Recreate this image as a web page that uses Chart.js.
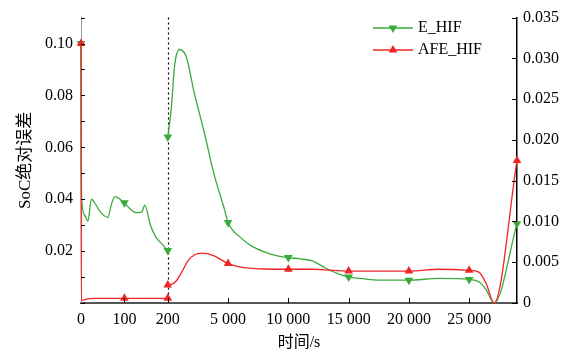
<!DOCTYPE html>
<html>
<head>
<meta charset="utf-8">
<script src="https://cdn.jsdelivr.net/npm/chart.js@4.4.1/dist/chart.umd.min.js"></script>
<style>
  html, body { margin: 0; padding: 0; background: #fff; }
  canvas { display: block; }
</style>
</head>
<body>
<canvas id="socChart" width="579" height="353"></canvas>
<script>
// part 1 of the run is plotted 0-200, part 2 is in seconds and squeezed after it
const eTime1 = [0, 0.5, 1.6, 8, 16, 24, 30, 45, 62, 70, 78, 90, 100, 115, 128, 140, 147, 160, 173, 188, 200];
const eVal1  = [0.100, 0.060, 0.040, 0.034, 0.0316, 0.040, 0.039, 0.035, 0.033, 0.038, 0.041, 0.040, 0.0386, 0.036, 0.0348, 0.035, 0.0377, 0.030, 0.0253, 0.0225, 0.0202];
const eTime2 = [0, 289, 562, 975, 1529, 2190, 3017, 3843, 4669, 5000, 6074, 6900, 8000, 9000, 10000, 11000, 12000, 13000, 14000, 15000, 16000, 17500, 20000, 22500, 25000, 25800, 26400, 27066, 28967];
const eVal2  = [0.064, 0.0749, 0.0914, 0.0977, 0.0949, 0.0811, 0.0659, 0.0495, 0.0366, 0.031, 0.0251, 0.0221, 0.0197, 0.0183, 0.0175, 0.0170, 0.0162, 0.0137, 0.0115, 0.0100, 0.0095, 0.0088, 0.0088, 0.0095, 0.0091, 0.0082, 0.0052, 0, 0.0305];

const aTime1 = [0, 0.5, 5, 15, 30, 100, 200];
const aVal1  = [0.100, 0.0011, 0.0011, 0.0016, 0.0018, 0.0018, 0.0018];
const aTime2 = [0, 300, 700, 1100, 1700, 2200, 2800, 3800, 5000, 6500, 8000, 10000, 12000, 13000, 15000, 20000, 22500, 25000, 25800, 26400, 27066, 28967];
const aVal2  = [0.0069, 0.0072, 0.0085, 0.0114, 0.0164, 0.0185, 0.0192, 0.0183, 0.0152, 0.0135, 0.0131, 0.013, 0.013, 0.0128, 0.0123, 0.0123, 0.013, 0.0126, 0.0119, 0.0076, 0, 0.0549];

const markTime1 = [0, 100, 200];
const markTime2 = [0, 5000, 10000, 15000, 20000, 25000, 28967];

const xTicks1 = [0, 100, 200];
const xTicks2 = [5000, 10000, 15000, 20000, 25000];

const SPLIT = 200;
const SEC_PER_UNIT = 36;
const END_TIME = 28967;

const GREEN = '#3aab3a';
const RED = '#f02424';
const FONT = "'Liberation Serif', 'Noto Sans CJK SC', serif";

function axisPos(part, t) {
    return part === 1 ? t : SPLIT + t / SEC_PER_UNIT;
}

function buildPoints(t1, v1, t2, v2) {
    const pts = t1.map((t, i) => ({ x: axisPos(1, t), y: v1[i], mark: markTime1.includes(t) }));
    pts.push({ x: SPLIT, y: null });   // break between the two parts
    t2.forEach((t, i) => pts.push({ x: axisPos(2, t), y: v2[i], mark: markTime2.includes(t) }));
    return pts;
}

function fmtThousands(v) {
    return String(v).replace(/\B(?=(\d{3})+(?!\d))/g, ' ');
}

const splitLine = {
    id: 'splitLine',
    beforeDatasetsDraw(chart) {
        const { ctx, chartArea: a, scales } = chart;
        const x = Math.round(scales.x.getPixelForValue(SPLIT)) + 0.5;
        ctx.save();
        ctx.strokeStyle = '#000';
        ctx.lineWidth = 1.2;
        ctx.setLineDash([2, 3]);
        ctx.beginPath();
        ctx.moveTo(x, a.top);
        ctx.lineTo(x, a.bottom);
        ctx.stroke();
        ctx.restore();
    }
};

// inward tick marks + legend inside the plot
const extras = {
    id: 'extras',
    afterDraw(chart) {
        const { ctx, chartArea: a, scales } = chart;
        ctx.save();
        ctx.strokeStyle = '#000';
        ctx.lineWidth = 1;
        ctx.beginPath();
        scales.y.ticks.forEach(tk => {
            const y = Math.round(scales.y.getPixelForValue(tk.value)) + 0.5;
            ctx.moveTo(a.left, y); ctx.lineTo(a.left + 4, y);
        });
        scales.y1.ticks.forEach(tk => {
            const y = Math.round(scales.y1.getPixelForValue(tk.value)) + 0.5;
            ctx.moveTo(a.right, y); ctx.lineTo(a.right - 5, y);
        });
        scales.x.ticks.forEach(tk => {
            if (tk.value === 0) return;
            const x = Math.round(scales.x.getPixelForValue(tk.value)) + 0.5;
            ctx.moveTo(x, a.bottom); ctx.lineTo(x, a.bottom - 5);
        });
        ctx.stroke();

        // legend
        const lx = 373, ly = 28, gap = 22;
        ctx.font = '16px ' + FONT;
        ctx.textBaseline = 'middle';
        chart.data.datasets.forEach((ds, i) => {
            const y = ly + i * gap;
            ctx.strokeStyle = ds.borderColor;
            ctx.lineWidth = 1.3;
            ctx.beginPath();
            ctx.moveTo(lx, y); ctx.lineTo(lx + 40, y);
            ctx.stroke();
            ctx.fillStyle = ds.backgroundColor;
            Chart.helpers.drawPoint(ctx, { pointStyle: 'triangle', radius: 5, rotation: ds.pointRotation, borderWidth: 0 }, lx + 20, y);
            ctx.fillStyle = '#000';
            ctx.fillText(ds.label, lx + 45, y);
        });
        ctx.restore();
    }
};

const markRadius = c => (c.raw && c.raw.mark ? 5 : 0);

new Chart(document.getElementById('socChart'), {
    type: 'line',
    data: {
        datasets: [{
            label: 'E_HIF',
            data: buildPoints(eTime1, eVal1, eTime2, eVal2),
            borderColor: GREEN,
            backgroundColor: GREEN,
            borderWidth: 1.3,
            pointStyle: 'triangle',
            pointRotation: 180,
            pointRadius: markRadius,
            pointBorderWidth: 0,
            cubicInterpolationMode: 'monotone',
            clip: false,
            order: 1
        }, {
            label: 'AFE_HIF',
            data: buildPoints(aTime1, aVal1, aTime2, aVal2),
            borderColor: RED,
            backgroundColor: RED,
            borderWidth: 1.3,
            pointStyle: 'triangle',
            pointRotation: 0,
            pointRadius: markRadius,
            pointBorderWidth: 0,
            cubicInterpolationMode: 'monotone',
            clip: false,
            order: 0
        }]
    },
    options: {
        responsive: false,
        animation: false,
        layout: { padding: { top: 14, left: 0, right: 0, bottom: 0 } },
        plugins: {
            legend: { display: false },
            tooltip: { enabled: false }
        },
        scales: {
            x: {
                type: 'linear',
                min: 0,
                max: axisPos(2, END_TIME),
                afterBuildTicks: s => {
                    s.ticks = xTicks1.map(t => ({ value: axisPos(1, t) }))
                        .concat(xTicks2.map(t => ({ value: axisPos(2, t) })));
                },
                afterFit: s => { s.height = 50; },
                grid: { display: false, drawTicks: false },
                border: { color: '#555', width: 2 },
                ticks: {
                    padding: 7,
                    maxRotation: 0,
                    autoSkip: false,
                    color: '#000',
                    font: { family: FONT, size: 16 },
                    callback: v => v <= SPLIT ? String(v) : fmtThousands(Math.round((v - SPLIT) * SEC_PER_UNIT))
                },
                title: {
                    display: true,
                    text: '时间/s',
                    color: '#000',
                    padding: { top: 0, bottom: 1 },
                    font: { family: FONT, size: 16 }
                }
            },
            y: {
                position: 'left',
                min: 0,
                max: 0.11,
                afterFit: s => { s.width = 81; },
                grid: { display: false, drawTicks: false },
                border: { color: '#999', dash: [3, 2], width: 1 },
                ticks: {
                    stepSize: 0.01,
                    padding: 8,
                    color: '#000',
                    font: { family: FONT, size: 16 },
                    callback: v => {
                        const n = Math.round(v * 100);
                        return (n > 0 && n <= 10 && n % 2 === 0) ? (n / 100).toFixed(2) : '';
                    }
                },
                title: {
                    display: true,
                    text: 'SoC绝对误差',
                    color: '#000',
                    padding: { top: 15, bottom: 0 },
                    font: { family: FONT, size: 17 }
                }
            },
            y1: {
                position: 'right',
                min: 0,
                max: 0.035,
                afterFit: s => { s.width = 62; },
                grid: { display: false, drawTicks: false },
                border: { color: '#000', width: 1.5 },
                ticks: {
                    stepSize: 0.005,
                    padding: 6,
                    color: '#000',
                    font: { family: FONT, size: 16 },
                    callback: v => v === 0 ? '0' : v.toFixed(3)
                }
            }
        }
    },
    plugins: [splitLine, extras]
});
</script>
</body>
</html>
